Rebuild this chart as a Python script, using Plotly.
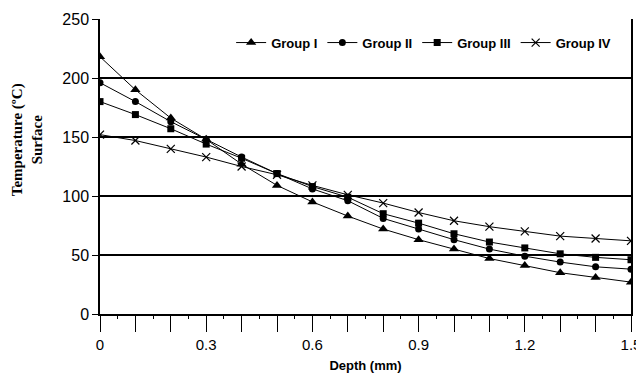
import plotly.graph_objects as go

depth = [0.0, 0.1, 0.2, 0.3, 0.4, 0.5, 0.6, 0.7, 0.8, 0.9, 1.0, 1.1, 1.2, 1.3, 1.4, 1.5]
group1 = [218, 190, 166, 148, 127, 109, 95, 83, 72, 63, 55, 47, 41, 35, 31, 27]
group2 = [196, 180, 163, 148, 133, 119, 106, 96, 81, 72, 63, 55, 49, 44, 40, 38]
group3 = [180, 169, 157, 144, 132, 119, 108, 99, 85, 77, 68, 61, 56, 51, 48, 46]
group4 = [152, 147, 140, 133, 125, 118, 109, 101, 94, 86, 79, 74, 70, 66, 64, 62]

x_tickvals = [0.0, 0.1, 0.2, 0.3, 0.4, 0.5, 0.6, 0.7, 0.8, 0.9, 1.0, 1.1, 1.2, 1.3, 1.4, 1.5]
x_ticktext = ["0", "", "", "0.3", "", "", "0.6", "", "", "0.9", "", "", "1.2", "", "", "1.5"]
x_minor = [0.05, 0.15, 0.25, 0.35, 0.45, 0.55, 0.65, 0.75, 0.85, 0.95, 1.05, 1.15, 1.25, 1.35, 1.45]
y_tickvals = [0, 50, 100, 150, 200, 250]

series = [
    ("Group I", group1, dict(symbol="triangle-up", size=9)),
    ("Group II", group2, dict(symbol="circle", size=7)),
    ("Group III", group3, dict(symbol="square", size=7)),
    ("Group IV", group4, dict(symbol="x-thin", size=8, line=dict(width=1.2, color="black"))),
]

fig = go.Figure()
for name, vals, mk in series:
    fig.add_trace(go.Scatter(
        x=depth, y=vals, name=name, mode="lines+markers",
        line=dict(color="black", width=1),
        marker=dict(color="black", **mk),
    ))

# page body has an 8px default margin, so the figure is drawn 8px smaller
fig.update_layout(
    width=636, height=365,
    margin=dict(l=92, r=13, t=11, b=59, autoexpand=False),
    paper_bgcolor="white", plot_bgcolor="white",
    showlegend=True,
    legend=dict(
        orientation="h", x=0.972, xanchor="right", y=0.92, yanchor="middle",
        font=dict(family="Liberation Sans, Arial", size=13, color="black", weight="bold"),
        bgcolor="rgba(0,0,0,0)", itemwidth=30, tracegroupgap=0,
    ),
    font=dict(family="Liberation Sans, Arial", color="black"),
)

fig.update_xaxes(
    range=[0, 1.5], tickvals=x_tickvals, ticktext=x_ticktext,
    showgrid=False, zeroline=False, automargin=False,
    showline=True, linecolor="black", linewidth=1.5,
    ticks="outside", ticklen=16, tickwidth=1.2, tickcolor="black",
    minor=dict(tickvals=x_minor, ticks="outside", ticklen=3, tickwidth=1, tickcolor="black", showgrid=False),
    tickfont=dict(size=15, family="Liberation Sans, Arial", color="black"),
    title=dict(text="Depth (mm)", font=dict(size=13, family="Liberation Sans, Arial", color="black", weight="bold"), standoff=10),
)

fig.update_yaxes(
    range=[0, 250], tickvals=y_tickvals,
    showgrid=True, gridcolor="black", gridwidth=1.5,
    zeroline=False, automargin=False,
    showline=True, linecolor="black", linewidth=1.5, mirror=True,
    ticks="outside", ticklen=6, tickwidth=1.2, tickcolor="black",
    tickfont=dict(size=16, family="Liberation Sans, Arial", color="black"),
)

fig.add_annotation(
    text="Temperature (ºC)<br>Surface", textangle=-90,
    xref="paper", yref="paper", x=-0.137, y=0.59, xanchor="center", yanchor="middle",
    showarrow=False,
    font=dict(size=15, family="Liberation Serif, Times New Roman", color="black", weight="bold"),
)

fig.write_html("out.html")
